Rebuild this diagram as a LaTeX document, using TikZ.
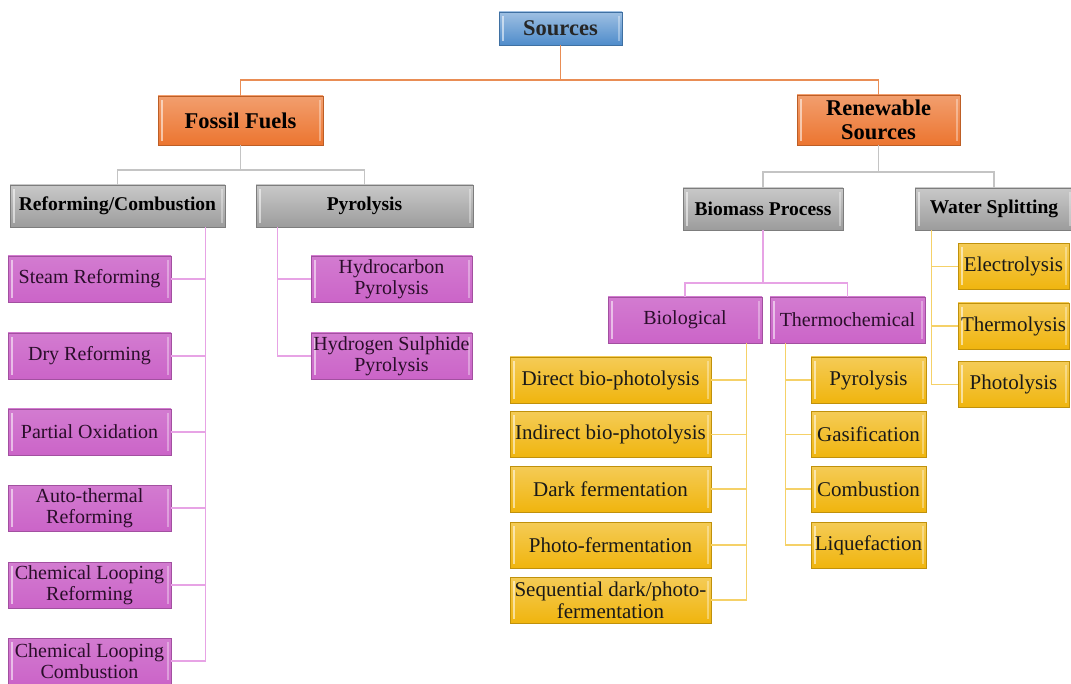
\documentclass[tikz,border=0pt]{standalone}
\usepackage{fontspec}
\setmainfont{Liberation Serif}
\begin{document}
\begin{tikzpicture}[x=1pt,y=-1pt,
  box/.style={inner sep=0pt, align=center, draw=#1!80!black, line width=0.5pt,
    path picture={
      \draw[white,opacity=0.55,line width=1.6pt]
        ([xshift=4pt,yshift=-4pt]path picture bounding box.north west) --
        ([xshift=4pt,yshift=4pt]path picture bounding box.south west);
      \draw[white,opacity=0.35,line width=1.2pt]
        ([xshift=-3pt,yshift=-4pt]path picture bounding box.north east) --
        ([xshift=-3pt,yshift=4pt]path picture bounding box.south east);
    }},
  bluebox/.style={box=srcblue, top color=srcblue!55!white, bottom color=srcblue,
    font=\fontsize{22.5}{24}\selectfont\bfseries, text=black!85},
  orangebox/.style={box=ffor, top color=ffor!70!white, bottom color=ffor,
    font=\fontsize{22.5}{24}\selectfont\bfseries, text=black},
  graybox/.style={box=hdgray, top color=hdgray!55!white, bottom color=hdgray,
    font=\fontsize{19.5}{21}\selectfont\bfseries, text=black,
    minimum height=42pt},
  pinkbox/.style={box=pk, top color=pk!85!white, bottom color=pk,
    font=\fontsize{20}{21}\selectfont, text=pktext, minimum height=46pt},
  yellowbox/.style={box=yl, top color=yl!70!white, bottom color=yl,
    font=\fontsize{21}{22}\selectfont, text=black!90, minimum height=46pt},
  oline/.style={draw=orline, line width=1.3pt},
  gline/.style={draw=grline, line width=1.3pt},
  pline/.style={draw=pkline, line width=1.3pt},
  yline/.style={draw=ylline, line width=1.3pt}
]
\definecolor{srcblue}{HTML}{4F8CCB}
\definecolor{ffor}{HTML}{EC7530}
\definecolor{hdgray}{HTML}{9C9C9C}
\definecolor{pk}{HTML}{CB64C8}
\definecolor{pktext}{HTML}{2A0E2A}
\definecolor{yl}{HTML}{F0B50E}
\definecolor{orline}{HTML}{E98D55}
\definecolor{grline}{HTML}{C4C4C4}
\definecolor{pkline}{HTML}{E7A3E5}
\definecolor{ylline}{HTML}{F5D168}

\path[use as bounding box] (0,0) rectangle (1071,684);

% ---- top levels
\node[bluebox, minimum width=123pt, minimum height=33pt] (src) at (560.5,28.5) {Sources};
\node[orangebox, minimum width=165pt, minimum height=49pt] (ff) at (240.5,120.5) {Fossil Fuels};
\node[orangebox, minimum width=163pt, minimum height=50pt] (rs) at (878.5,120) {Renewable\\Sources};

% ---- process headers
\node[graybox, minimum width=215pt] (rc) at (117.5,206) {Reforming/Combustion};
\node[graybox, minimum width=217pt] (py) at (364.5,206) {Pyrolysis};
\node[graybox, minimum width=160pt] (bp) at (763,209) {Biomass Process};
\node[graybox, minimum width=158pt] (ws) at (994,209) {Water Splitting};

% ---- reforming / combustion routes
\node[pinkbox, minimum width=163pt] (sr)  at (89.5,279) {Steam Reforming};
\node[pinkbox, minimum width=163pt] (dr)  at (89.5,356) {Dry Reforming};
\node[pinkbox, minimum width=163pt] (po)  at (89.5,432) {Partial Oxidation};
\node[pinkbox, minimum width=163pt] (atr) at (89.5,508) {Auto-thermal\\Reforming};
\node[pinkbox, minimum width=163pt] (clr) at (89.5,585) {Chemical Looping\\Reforming};
\node[pinkbox, minimum width=163pt] (clc) at (89.5,661) {Chemical Looping\\Combustion};

% ---- pyrolysis routes
\node[pinkbox, minimum width=161pt] (hcp) at (391.5,279) {Hydrocarbon\\Pyrolysis};
\node[pinkbox, minimum width=161pt] (hsp) at (391.5,356) {Hydrogen Sulphide\\Pyrolysis};

% ---- biomass branches
\node[pinkbox, minimum width=154pt] (bio) at (685,320) {Biological};
\node[pinkbox, minimum width=155pt] (thc) at (847.5,320) {Thermochemical};

% ---- biological routes
\node[yellowbox, minimum width=201pt] (dbp) at (610.5,380) {Direct bio-photolysis};
\node[yellowbox, minimum width=201pt] (ibp) at (610.5,434.5) {Indirect bio-photolysis};
\node[yellowbox, minimum width=201pt] (dkf) at (610.5,489) {Dark fermentation};
\node[yellowbox, minimum width=201pt] (phf) at (610.5,545) {Photo-fermentation};
\node[yellowbox, minimum width=201pt] (sdp) at (610.5,600) {Sequential dark/photo-\\fermentation};

% ---- thermochemical routes
\node[yellowbox, minimum width=115pt] (tpy) at (868.5,380) {Pyrolysis};
\node[yellowbox, minimum width=115pt] (gas) at (868.5,434.5) {Gasification};
\node[yellowbox, minimum width=115pt] (cmb) at (868.5,489) {Combustion};
\node[yellowbox, minimum width=115pt] (liq) at (868.5,545) {Liquefaction};

% ---- water splitting routes
\node[yellowbox, minimum width=111pt] (ely) at (1013.5,266.5) {Electrolysis};
\node[yellowbox, minimum width=111pt] (tly) at (1013.5,326) {Thermolysis};
\node[yellowbox, minimum width=111pt] (ply) at (1013.5,384.5) {Photolysis};

% ---- bus levels and spine origins
\coordinate (busA) at (0,80);
\coordinate (busB) at (0,170);
\coordinate (busC) at (0,172);
\coordinate (busD) at (0,283);
\coordinate (rcsp)  at ([xshift=-20pt]rc.south east);
\coordinate (pysp)  at ([xshift=22pt]py.south west);
\coordinate (biosp) at ([xshift=-16pt]bio.south east);
\coordinate (thcsp) at ([xshift=16pt]thc.south west);
\coordinate (wssp)  at ([xshift=17pt]ws.south west);

% ---- connectors
\begin{scope}[on background layer/.style={}]
\draw[oline] (src.south) -- (src.south |- busA) -| (ff.north);
\draw[oline] (src.south |- busA) -| (rs.north);

\draw[gline] (ff.south) -- (ff.south |- busB) -| (rc.north);
\draw[gline] (ff.south |- busB) -| (py.north);
\draw[gline] (rs.south) -- (rs.south |- busC) -| (bp.north);
\draw[gline] (rs.south |- busC) -| (ws.north);

\foreach \c in {sr,dr,po,atr,clr,clc} \draw[pline] (rcsp) |- (\c.east);
\foreach \c in {hcp,hsp} \draw[pline] (pysp) |- (\c.west);
\draw[pline] (bp.south) -- (bp.south |- busD) -| (bio.north);
\draw[pline] (bp.south |- busD) -| (thc.north);

\foreach \c in {dbp,ibp,dkf,phf,sdp} \draw[yline] (biosp) |- (\c.east);
\foreach \c in {tpy,gas,cmb,liq} \draw[yline] (thcsp) |- (\c.west);
\foreach \c in {ely,tly,ply} \draw[yline] (wssp) |- (\c.west);
\end{scope}
\end{tikzpicture}
\end{document}
